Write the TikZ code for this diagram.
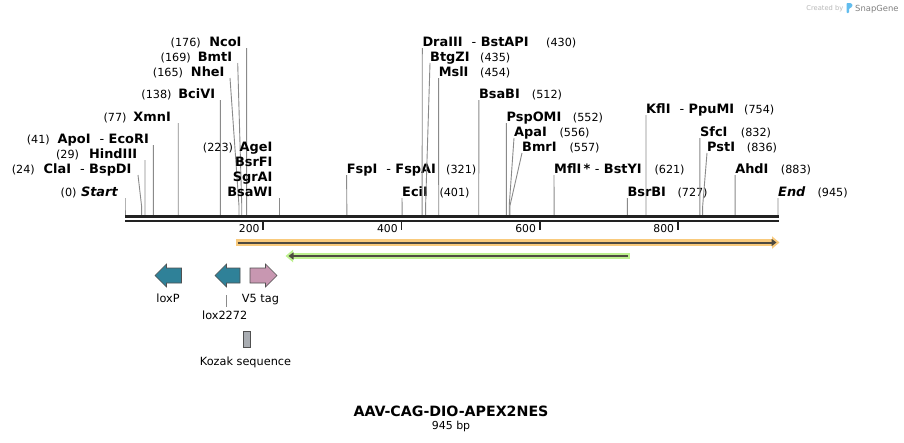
\documentclass[tikz,border=0pt]{standalone}
\usepackage{fontspec}
\setmainfont{DejaVu Sans}
\usetikzlibrary{arrows.meta,positioning}

\definecolor{siteGray}{HTML}{8A8A8A}
\definecolor{bbDark}{HTML}{222222}
\definecolor{cagLight}{HTML}{F9CA7C}
\definecolor{grnLight}{HTML}{BDF08F}
\definecolor{featDark}{HTML}{4E4A40}
\definecolor{loxTeal}{HTML}{2F8198}
\definecolor{tagPink}{HTML}{C897B1}
\definecolor{kozGray}{HTML}{A9ADB2}
\definecolor{edgeGray}{HTML}{505050}
\definecolor{logoBlue}{HTML}{62BDEE}

\tikzset{
  enz/.style={inner sep=0pt, font=\fontsize{12.9}{14}\selectfont\bfseries},
  num/.style={inner sep=0pt, font=\fontsize{11.2}{13}\selectfont},
  siteline/.style={draw=siteGray, line width=0.9pt},
  featlabel/.style={inner sep=0pt, font=\fontsize{11.3}{13}\selectfont},
  featshape/.style={draw=edgeGray, line width=0.6pt},
}

\begin{document}
\begin{tikzpicture}[x=1pt, y=-1pt]
    \fill[white] (0,0) rectangle (904,442);
    \useasboundingbox (0,0) rectangle (904,442);

    % sites with the label left of the line
    \foreach \k/\p/\ex/\bl/\tx/\nx/\nm in {
        Start/0/118.3/196.5/125/76.7/\textit{Start},
        ClaI/24/131.7/173.5/138/35/ClaI\ \ \textmd{-}\ BspDI,
        HindIII/29/137.3/158.5/145.04/79.3/HindIII,
        ApoI/41/149/143.5/153.33/50/ApoI\ \ \textmd{-}\ EcoRI,
        XmnI/77/171/121.5/178.21/126.7/XmnI,
        BciVI/138/215.3/98.5/220.36/171.7/BciVI,
        NheI/165/224.7/76.5/230/183.3/NheI,
        BmtI/169/232.3/61.5/237.7/191/BmtI,
        NcoI/176/241.7/46.5/246.62/201/NcoI}
    {
        \node[enz, anchor=base east] (n\k) at (\ex,\bl) {\nm};
        \node[num, anchor=base east] (p\k) at (\nx,\bl) {(\p)};
        \coordinate (t\k) at (\tx,\bl+1.5);
        \coordinate (s\k) at ({125+\p*0.691},215);
        \draw[siteline] (t\k) -- ([yshift=9pt]s\k) -- (s\k);
    }

    % four enzymes at 223
    \node[enz, anchor=base east] (nAgeI) at (272.7,151.5) {AgeI};
    \node[enz, anchor=base east] (nBsrFI) at (272.7,166.5) {BsrFI};
    \node[enz, anchor=base east] (nSgrAI) at (272.7,181.5) {SgrAI};
    \node[enz, anchor=base east] (nBsaWI) at (272.7,196.5) {BsaWI};
    \node[num, anchor=base east] (pAgeI) at (233.3,151.5) {(223)};
    \coordinate (tAgeI) at (279.1,198);
    \coordinate (sAgeI) at (279.1,215);
    \draw[siteline] (tAgeI) -- (sAgeI);

    % sites with the label right of the line
    \foreach \k/\p/\wx/\bl/\nx/\nm in {
        FspI/321/346.6/173.5/446/FspI\ \ \textmd{-}\ FspAI,
        EciI/401/402/196.5/439.3/EciI,
        DraIII/430/422.3/46.5/546/DraIII\ \ \textmd{-}\ BstAPI,
        BtgZI/435/430/61.5/480/BtgZI,
        MslI/454/438.6/76.5/480/MslI,
        BsaBI/512/478.8/98.5/531.7/BsaBI,
        PspOMI/552/506.4/121.5/572.7/PspOMI,
        ApaI/556/514/136.5/559.3/ApaI,
        BmrI/557/522/151.5/569.3/BmrI,
        MflI/621/554/173.5/654.3/MflI\,*\ \textmd{-}\ BstYI,
        BsrBI/727/627.3/196.5/677.3/BsrBI,
        KflI/754/646/113.5/744/KflI\ \ \textmd{-}\ PpuMI,
        SfcI/832/699.9/136.5/740.7/SfcI,
        PstI/836/707/151.5/746.7/PstI,
        AhdI/883/735.1/173.5/780.7/AhdI,
        End/945/778/196.5/817.3/\textit{End}}
    {
        \node[enz, anchor=base west] (n\k) at (\wx,\bl) {\nm};
        \node[num, anchor=base west] (p\k) at (\nx,\bl) {(\p)};
        \coordinate (s\k) at ({125+\p*0.691},215);
        \draw[siteline] ([yshift=-1.5pt]n\k.base west) -- ([yshift=9pt]s\k) -- (s\k);
    }

    % backbone and ruler
    \coordinate (bbL) at (125,216.8);
    \coordinate (bbR) at (778.6,216.8);
    \draw[bbDark, line width=2.7pt] (bbL) -- (bbR);
    \draw[bbDark, line width=1.7pt] ([yshift=-4.4pt]bbL) -- ([yshift=-4.4pt]bbR);
    \foreach \t in {200,400,600,800}
    {
        \coordinate (tk\t) at ({125+\t*0.691},222);
        \draw[bbDark, line width=1.8pt] (tk\t) -- ++(0,7.5);
        \node[num, font=\fontsize{10.8}{12}\selectfont, anchor=base east] (tl\t) at ([xshift=-3.5pt, yshift=-10.3pt]tk\t) {\t};
    }

    % long features
    \coordinate (cagL) at (236,242.5);
    \coordinate (cagR) at (779.5,242.5);
    \draw[cagLight, line width=6.5pt, -{Triangle[length=7.5pt,width=12pt]}] (cagL) -- (cagR);
    \draw[featDark, line width=2pt, -{Triangle[length=5pt,width=7pt]}] ([xshift=1.5pt]cagL) -- ([xshift=-3pt]cagR);
    \coordinate (grnL) at (285.5,256);
    \coordinate (grnR) at (630,256);
    \draw[grnLight, line width=6.5pt, {Triangle[length=7.5pt,width=12pt]}-] (grnL) -- (grnR);
    \draw[featDark, line width=2pt, {Triangle[length=5pt,width=7pt]}-] ([xshift=3pt]grnL) -- ([xshift=-2pt]grnR);

    % small features
    \filldraw[featshape, fill=loxTeal] (155,275.5) -- (166.5,264) -- (166.5,268) -- (181.5,268) -- (181.5,283) -- (166.5,283) -- (166.5,287) -- cycle;
    \filldraw[featshape, fill=loxTeal] (215,275.5) -- (226.5,264) -- (226.5,268) -- (240,268) -- (240,283) -- (226.5,283) -- (226.5,287) -- cycle;
    \filldraw[featshape, fill=tagPink] (250,268) -- (265.5,268) -- (265.5,264) -- (277,275.5) -- (265.5,287) -- (265.5,283) -- (250,283) -- cycle;
    \filldraw[featshape, fill=kozGray] (243.3,331) rectangle (250.7,347.3);

    \node[featlabel, anchor=base] (loxP) at (168,302) {loxP};
    \node[featlabel, anchor=base] (v5tag) at (260.5,302) {V5 tag};
    \node[featlabel, anchor=base, inner ysep=3.6pt] (lox2272) at (224.7,319) {lox2272};
    \node[featlabel, anchor=base] (kozak) at (245.5,365) {Kozak sequence};
    \coordinate (lox2272foot) at (226.7,295);
    \draw[siteline] (lox2272foot) -- (lox2272foot |- lox2272.north);

    % title
    \node[inner sep=0pt, font=\fontsize{14.2}{16}\selectfont\bfseries, anchor=base] (title) at (451,416.5) {AAV-CAG-DIO-APEX2NES};
    \node[inner sep=0pt, font=\fontsize{11}{13}\selectfont, anchor=base] (length) at (451,429.5) {945 bp};

    % corner mark
    \node[inner sep=0pt, font=\fontsize{6.7}{8}\selectfont, text=black!28, anchor=base east] (created) at (843.5,10.5) {Created by};
    \fill[logoBlue, rounded corners=0.8pt] (846.5,3) -- (851,3) -- (852.8,5.5) -- (850.5,8.2) -- (849,8.2) -- (849,13) -- (846.5,13) -- cycle;
    \node[inner sep=0pt, font=\fontsize{8.4}{10}\selectfont, text=black!50, anchor=base west] (snapgene) at (855,11) {SnapGene};
\end{tikzpicture}
\end{document}
